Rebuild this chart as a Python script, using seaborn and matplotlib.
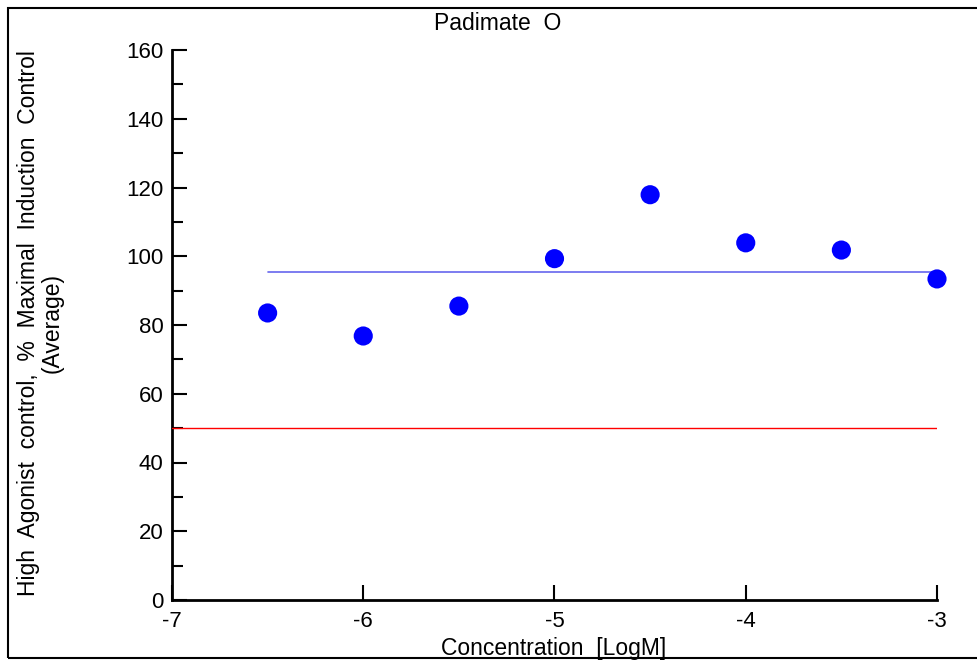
import matplotlib
matplotlib.use("Agg")
import matplotlib.pyplot as plt
import seaborn as sns
import pandas as pd
from matplotlib.ticker import MultipleLocator
from matplotlib.patches import Rectangle

# Data
conc = [-6.5, -6.0, -5.5, -5.0, -4.5, -4.0, -3.5, -3.0]
response = [83.5, 76.8, 85.5, 99.3, 117.9, 103.9, 101.8, 93.4]
mean_x = [-6.5, -3.0]
mean_y = [95.4, 95.4]
half_x = [-7.0, -3.0]
half_y = [50.0, 50.0]

title = "Padimate  O"
xlabel = "Concentration  [LogM]"
ylabel = "High  Agonist  control,  %  Maximal  Induction  Control\n(Average)"

sns.set_style("white")
plt.rcParams['font.family'] = ['Liberation Sans', 'DejaVu Sans']
plt.rcParams['text.color'] = 'black'

W, H = 977, 661
fig = plt.figure(figsize=(W / 100, H / 100), dpi=100)
ax = fig.add_axes([172 / W, 1 - 600 / H, (937 - 172) / W, (600 - 50) / H])

df = pd.DataFrame({"conc": conc, "response": response})
sns.scatterplot(data=df, x="conc", y="response", ax=ax, color="#0000ff",
                s=190, edgecolor="none", clip_on=False, zorder=5)
ax.plot(mean_x, mean_y, color="#6666ee", lw=1.2, zorder=3)
ax.plot(half_x, half_y, color="#ff0000", lw=1.0, zorder=3)

ax.set_xlim(-7, -3)
ax.set_ylim(0, 160)
ax.xaxis.set_major_locator(MultipleLocator(1))
ax.yaxis.set_major_locator(MultipleLocator(20))
ax.yaxis.set_minor_locator(MultipleLocator(10))
ax.set_xticklabels([f"{int(t)}" for t in ax.get_xticks()])

for s in ["top", "right"]:
    ax.spines[s].set_visible(False)
for s in ["left", "bottom"]:
    ax.spines[s].set_color("black")
    ax.spines[s].set_linewidth(2)

ax.tick_params(axis="both", which="major", direction="in", length=10.5, width=1.5,
               labelsize=16, color="black", labelcolor="black")
ax.tick_params(axis="y", which="major", pad=6)
ax.tick_params(axis="x", which="major", pad=8)
ax.tick_params(axis="y", which="minor", direction="in", length=8, width=1.5, color="black")
ax.tick_params(axis="y", left=True, which="both")
ax.tick_params(axis="x", bottom=True)

ax.set_xlabel("")
ax.set_ylabel("")
fig.text(554 / W, 1 - 648 / H, xlabel, ha="center", va="center", fontsize=16.5, color="black")
fig.text(40 / W, 1 - 323 / H, ylabel, ha="center", va="center", fontsize=16.5,
         rotation=90, multialignment="center", linespacing=1.05, color="black")
fig.text(498 / W, 1 - 24 / H, title, ha="center", va="center", fontsize=16.5, color="black")

# figure border
fig.patches.append(Rectangle((8 / W, 3 / H), 1.2, (H - 11) / H, transform=fig.transFigure,
                             fill=False, edgecolor="black", lw=1.5, figure=fig))

fig.savefig("out.png", dpi=100)
